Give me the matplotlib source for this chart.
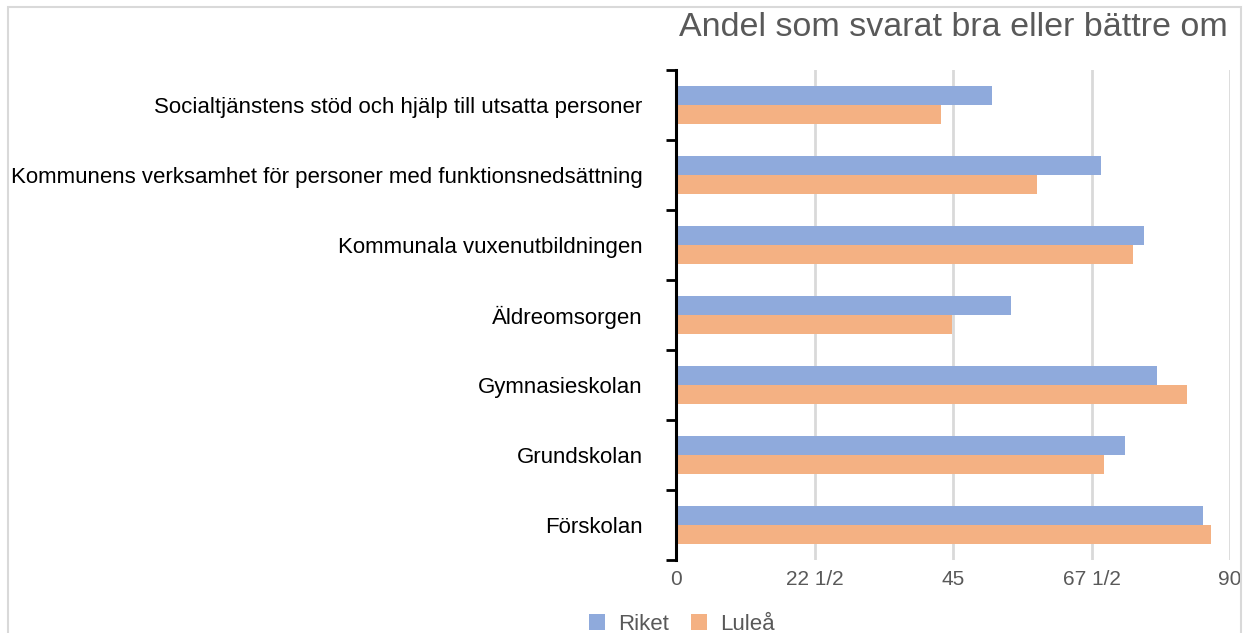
import numpy as np
import matplotlib
matplotlib.use("Agg")
import matplotlib.pyplot as plt
from matplotlib.patches import Rectangle

plt.rcParams['font.family'] = ['Liberation Sans', 'DejaVu Sans']

# Data (top to bottom as shown)
categories = [
    "Socialtjänstens stöd och hjälp till utsatta personer",
    "Kommunens verksamhet för personer med funktionsnedsättning",
    "Kommunala vuxenutbildningen",
    "Äldreomsorgen",
    "Gymnasieskolan",
    "Grundskolan",
    "Förskolan",
]
riket = [51.4, 69.1, 76.0, 54.4, 78.1, 72.9, 85.6]
lulea = [43.1, 58.7, 74.2, 44.8, 83.0, 69.5, 86.9]
xticks = [0, 22.5, 45, 67.5, 90]
xtick_labels = ["0", "22 1/2", "45", "67 1/2", "90"]

c_riket = "#8faadc"
c_lulea = "#f4b183"
gray = "#595959"

fig = plt.figure(figsize=(12.46, 6.33), dpi=100)
ax = fig.add_axes([676 / 1246, 1 - 560 / 633, (1230 - 676) / 1246, 490 / 633])

n = len(categories)
y = np.arange(n)[::-1]  # first category at top
h = 0.267
ax.barh(y + h / 2, riket, height=h, color=c_riket, label="Riket", zorder=3)
ax.barh(y - h / 2, lulea, height=h, color=c_lulea, label="Luleå", zorder=3)

ax.set_xlim(0, 90)
ax.set_ylim(-0.5, n - 0.5)
ax.set_xticks(xticks)
ax.set_xticklabels(xtick_labels, color=gray, fontsize=15)
ax.tick_params(axis="x", length=0, pad=7)

ax.set_yticks(y)
ax.set_yticklabels(categories, fontsize=16, color="black")
ax.set_yticks(np.arange(n + 1) - 0.5, minor=True)
ax.tick_params(axis="y", which="major", length=0, pad=24)
ax.tick_params(axis="y", which="minor", length=7, width=2, color="black", direction="out")

ax.grid(axis="x", color="#d9d9d9", linewidth=2, zorder=0)
for s in ["top", "right", "bottom"]:
    ax.spines[s].set_visible(False)
ax.spines["left"].set_linewidth(2.2)
ax.spines["left"].set_color("black")
ax.spines["left"].set_zorder(4)

fig.text(1228 / 1246, 1 - 28 / 633, "Andel som svarat bra eller bättre om",
         ha="right", va="center", fontsize=24.5, color=gray)

fig.legend(loc="center", bbox_to_anchor=(682 / 1246, 1 - 624 / 633), ncol=2,
           frameon=False, fontsize=16, labelcolor=gray, handlelength=0.7,
           handleheight=0.7, columnspacing=1.0, handletextpad=0.6)

fig.patches.append(Rectangle((8 / 1246, -0.05), (1241 - 8) / 1246, 1.05 - 7 / 633,
                             transform=fig.transFigure, fill=False,
                             edgecolor="#d9d9d9", linewidth=1.5))

fig.savefig("out.png", dpi=100, facecolor="white")
